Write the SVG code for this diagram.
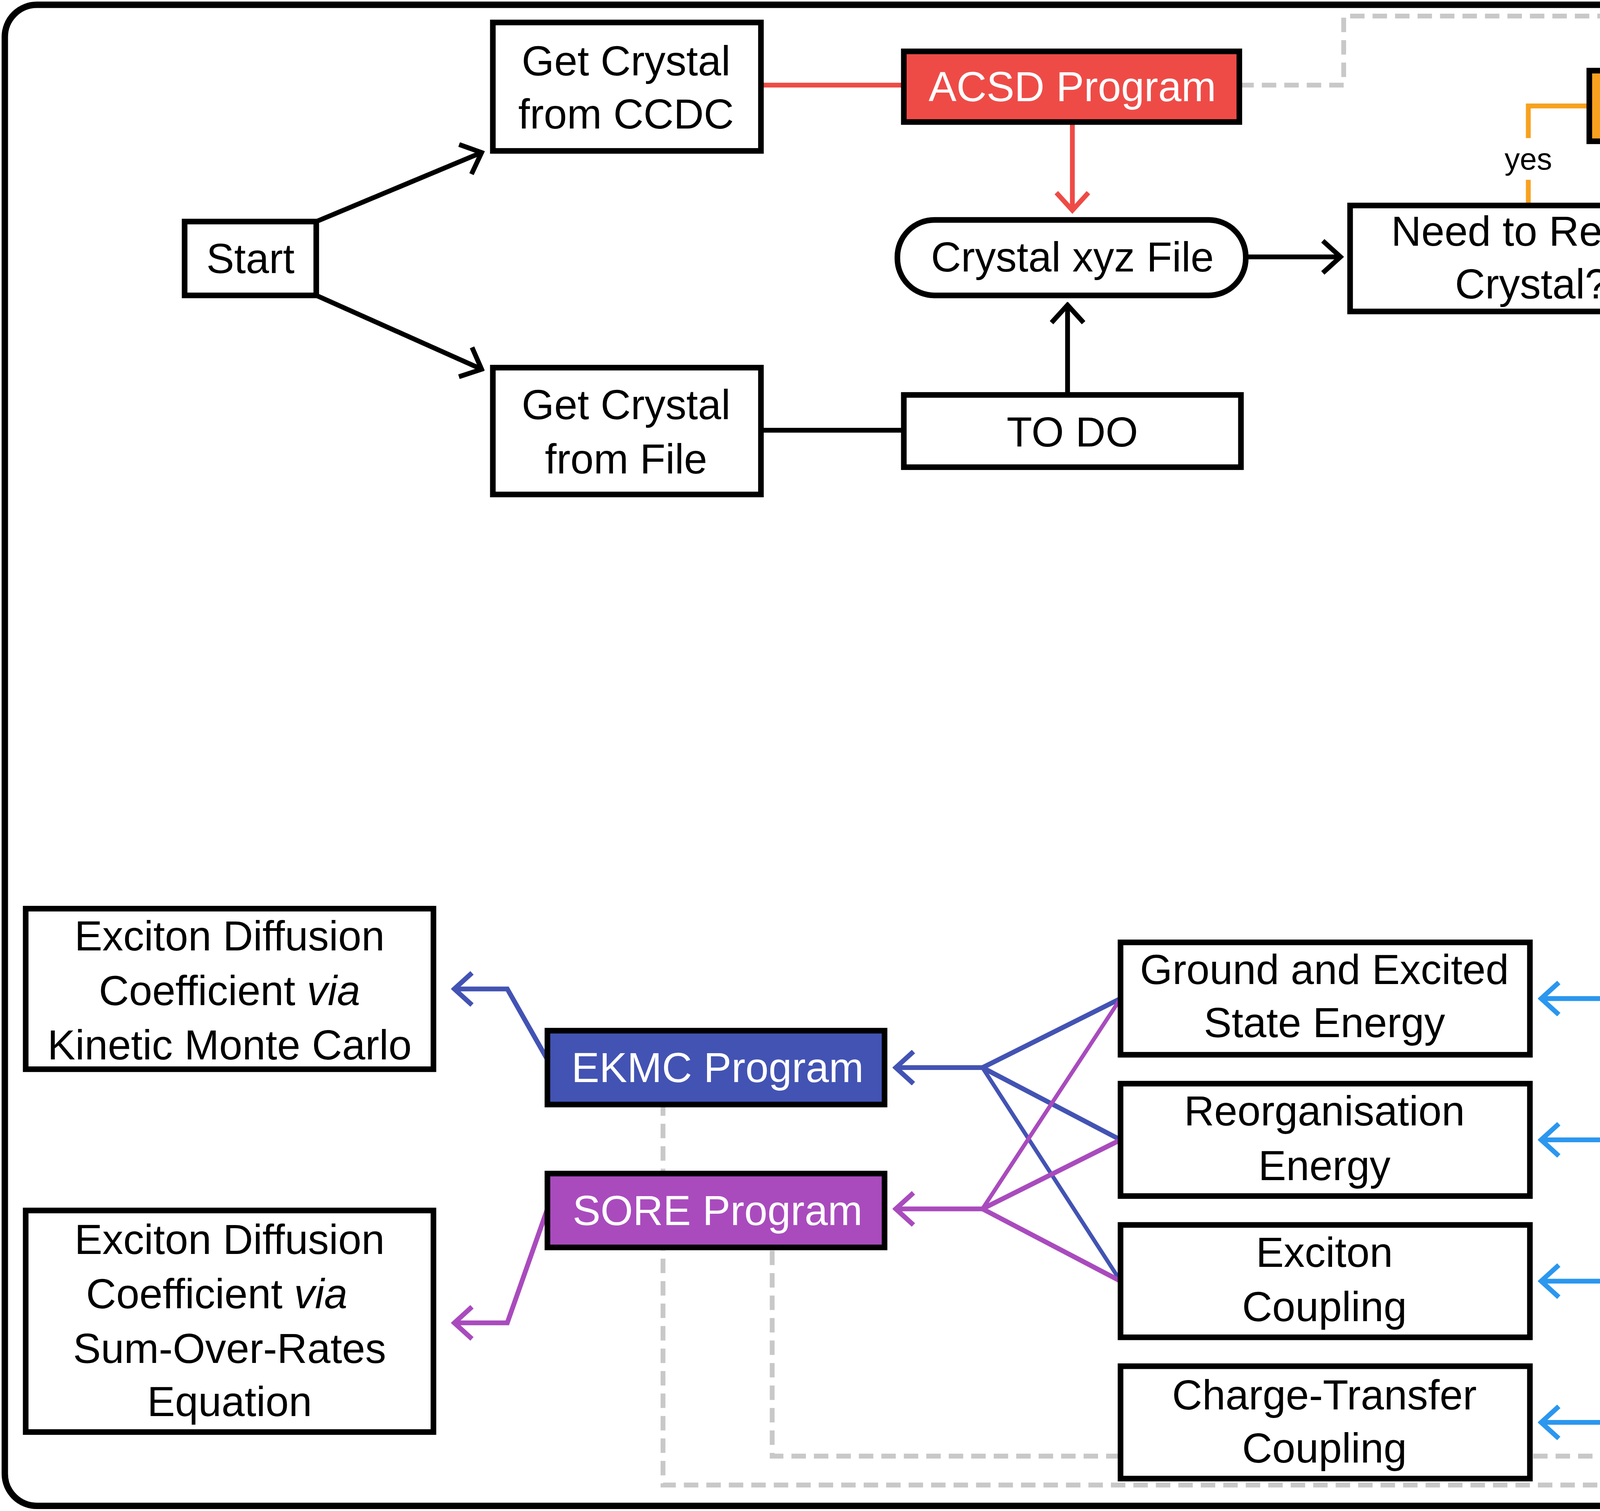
<svg xmlns="http://www.w3.org/2000/svg" width="6444" height="3868" viewBox="0 0 6444 3868">
<style>
.b{fill:#fff;stroke:#000;stroke-width:3.5}
.p{stroke:#000;stroke-width:3.5}
text{font-family:"Liberation Sans",Arial,sans-serif;font-size:26px;text-anchor:middle;dominant-baseline:central;fill:#000}
.w{fill:#fff}
.s{font-size:19px}
.c{fill:none;stroke-width:3}
.d{fill:none;stroke:#c8c8c8;stroke-width:3;stroke-dasharray:9,5}
</style>
<defs>
<marker id="mk" viewBox="0 0 14 22" refX="12" refY="11" markerWidth="14" markerHeight="22" markerUnits="userSpaceOnUse" orient="auto"><polyline points="1,1 12,11 1,21" fill="none" stroke="#000" stroke-width="3"/></marker>
<marker id="mr" viewBox="0 0 14 22" refX="12" refY="11" markerWidth="14" markerHeight="22" markerUnits="userSpaceOnUse" orient="auto"><polyline points="1,1 12,11 1,21" fill="none" stroke="#ee4b47" stroke-width="3"/></marker>
<marker id="mo" viewBox="0 0 14 22" refX="12" refY="11" markerWidth="14" markerHeight="22" markerUnits="userSpaceOnUse" orient="auto"><polyline points="1,1 12,11 1,21" fill="none" stroke="#f7a11f" stroke-width="3"/></marker>
<marker id="my" viewBox="0 0 14 22" refX="12" refY="11" markerWidth="14" markerHeight="22" markerUnits="userSpaceOnUse" orient="auto"><polyline points="1,1 12,11 1,21" fill="none" stroke="#fdb714" stroke-width="3"/></marker>
<marker id="mg" viewBox="0 0 14 22" refX="12" refY="11" markerWidth="14" markerHeight="22" markerUnits="userSpaceOnUse" orient="auto"><polyline points="1,1 12,11 1,21" fill="none" stroke="#4faf51" stroke-width="3"/></marker>
<marker id="mb" viewBox="0 0 14 22" refX="12" refY="11" markerWidth="14" markerHeight="22" markerUnits="userSpaceOnUse" orient="auto"><polyline points="1,1 12,11 1,21" fill="none" stroke="#2b97ef" stroke-width="3"/></marker>
<marker id="mi" viewBox="0 0 14 22" refX="12" refY="11" markerWidth="14" markerHeight="22" markerUnits="userSpaceOnUse" orient="auto"><polyline points="1,1 12,11 1,21" fill="none" stroke="#4353b3" stroke-width="3"/></marker>
<marker id="mp" viewBox="0 0 14 22" refX="12" refY="11" markerWidth="14" markerHeight="22" markerUnits="userSpaceOnUse" orient="auto"><polyline points="1,1 12,11 1,21" fill="none" stroke="#a94bbd" stroke-width="3"/></marker>
</defs>
<rect width="6444" height="3868" fill="#fff"/>
<g transform="scale(4.1097)">
<rect x="3" y="3" width="1562" height="935" rx="20" fill="none" stroke="#000" stroke-width="4"/>
<g id="connectors">
<g class="d">
<polyline points="772,53 837,53 837,10 1535,10 1535,797"/>
<polyline points="1112,44 1112,27 1505,27 1505,797"/>
<polyline points="1469,279 1469,866 1127,866 1127,925 413,925 413,688"/>
<polyline points="1215,445 1235,445 1235,480 1432,480 1432,797"/>
<polyline points="1390,843 1390,853 1075,853 1075,907 481,907 481,777"/>
<polyline points="1149,777 1149,819 1309,819"/>
</g>
<g class="c" stroke="#000">
<line x1="197" y1="138" x2="300" y2="95" marker-end="url(#mk)"/>
<line x1="197" y1="184" x2="300" y2="230" marker-end="url(#mk)"/>
<line x1="474" y1="268" x2="563" y2="268"/>
<line x1="665" y1="246" x2="665" y2="190" marker-end="url(#mk)"/>
<line x1="776" y1="160" x2="835" y2="160" marker-end="url(#mk)"/>
<polyline points="1068,160 1098,160"/>
<line x1="1122" y1="160" x2="1155" y2="160" marker-end="url(#mk)"/>
<polyline points="1273,194 1273,234"/>
<line x1="1273" y1="262" x2="1273" y2="313" marker-end="url(#mk)"/>
<polyline points="1273,389 1273,430"/>
<line x1="1273" y1="458" x2="1273" y2="510" marker-end="url(#mk)"/>
<line x1="1273" y1="590" x2="1273" y2="638" marker-end="url(#mk)"/>
</g>
<line x1="474" y1="53" x2="563" y2="53" stroke="#ee4b47" stroke-width="3"/>
<line x1="668" y1="76" x2="668" y2="131" class="c" stroke="#ee4b47" marker-end="url(#mr)"/>
<g class="c" stroke="#f7a11f">
<polyline points="952,128 952,112"/>
<polyline points="952,86 952,66 990,66"/>
<polyline points="1235,66 1273,66 1273,120" marker-end="url(#mo)"/>
</g>
<g class="c" stroke="#fdb714">
<polyline points="1387,160 1447,160 1447,180"/>
<polyline points="1447,205 1447,233"/>
<polyline points="1447,279 1447,353 1415,353" marker-end="url(#my)"/>
</g>
<g class="c" stroke="#4faf51">
<polyline points="1137,353 1110,353 1110,372"/>
<polyline points="1110,397 1110,422"/>
<polyline points="1110,468 1110,552 1145,552" marker-end="url(#mg)"/>
</g>
<g class="c" stroke="#2b97ef">
<polyline points="1273,715 1273,753 1255,753"/>
<polyline points="1060,731 1015,622 960,622" marker-end="url(#mb)"/>
<polyline points="1043,740 1015,710 960,710" marker-end="url(#mb)"/>
<polyline points="1043,770 1015,798 960,798" marker-end="url(#mb)"/>
<polyline points="1060,777 1015,886 960,886" marker-end="url(#mb)"/>
</g>
<g class="c" stroke="#4353b3">
<line x1="612" y1="665" x2="558" y2="665" marker-end="url(#mi)"/>
<line x1="612" y1="665" x2="698" y2="622"/>
<line x1="612" y1="665" x2="698" y2="710"/>
<line x1="612" y1="665" x2="698" y2="798" stroke-width="2.5"/>
<polyline points="341,660 316,616 283,616" marker-end="url(#mi)"/>
</g>
<g class="c" stroke="#a94bbd">
<line x1="612" y1="753" x2="558" y2="753" marker-end="url(#mp)"/>
<line x1="612" y1="753" x2="698" y2="622" stroke-width="2.5"/>
<line x1="612" y1="753" x2="698" y2="710"/>
<line x1="612" y1="753" x2="698" y2="798"/>
<polyline points="341,753 316,824 283,824" marker-end="url(#mp)"/>
</g>
<text x="952" y="99" class="s">yes</text>
<text x="1110" y="160" class="s">no</text>
<text x="1273" y="248" class="s">no</text>
<text x="1447" y="192" class="s">yes</text>
<text x="1110" y="384" class="s">yes</text>
<text x="1273" y="444" class="s">no</text>
</g>
<g id="start"><rect class="b" x="115" y="138" width="82" height="46"/><text x="156" y="161">Start</text></g>
<g id="ccdc"><rect class="b" x="307" y="14" width="167" height="80"/><text x="390" y="38">Get Crystal</text><text x="390" y="71">from CCDC</text></g>
<g id="file"><rect class="b" x="307" y="229" width="167" height="79"/><text x="390" y="252">Get Crystal</text><text x="390" y="286">from File</text></g>
<g id="acsd"><rect class="p" fill="#ee4b47" x="563" y="32" width="209" height="44"/><text class="w" x="668" y="54">ACSD Program</text></g>
<g id="xyz"><rect class="b" x="559" y="137" width="217" height="47" rx="23"/><text x="668" y="160">Crystal xyz File</text></g>
<g id="todo"><rect class="b" x="563" y="246" width="210" height="45"/><text x="668" y="269">TO DO</text></g>
<g id="repair"><rect class="b" x="841" y="128" width="227" height="66"/><text x="954" y="144">Need to Repair</text><text x="954" y="177">Crystal?</text></g>
<g id="recrystal"><rect class="p" fill="#f7a11f" x="990" y="44" width="245" height="44"/><text x="1112" y="66">ReCrystal Program</text></g>
<g id="remove"><rect class="b" x="1159" y="128" width="228" height="66"/><text x="1273" y="145">Remove Aliphatic</text><text x="1273" y="178">Sidechains?</text></g>
<g id="rsgc"><rect class="p" fill="#fdb714" x="1341" y="233" width="210" height="46"/><text x="1446" y="256">RSGC Program</text></g>
<g id="relax"><rect class="b" x="1137" y="321" width="272" height="68"/><text x="1273" y="339">Relax added/modified</text><text x="1273" y="372">atoms in crystals?</text></g>
<g id="rejig"><rect class="p" fill="#4faf51" x="1006" y="422" width="209" height="46"/><text class="w" x="1110" y="445">ReJig Program</text></g>
<g id="configured"><rect class="b" x="1155" y="516" width="236" height="74" rx="25"/><text x="1273" y="537">Configured Crystal</text><text x="1273" y="570">xyz File</text></g>
<g id="extract"><rect class="b" x="1159" y="645" width="228" height="70"/><text x="1273" y="662">Extract Structural</text><text x="1273" y="695">Data from Crystal</text></g>
<g id="eccp"><rect class="p" fill="#2b97ef" x="1043" y="731" width="212" height="46"/><text class="w" x="1149" y="754">ECCP Program</text></g>
<g id="ground"><rect class="b" x="698" y="587" width="255" height="70"/><text x="825" y="604">Ground and Excited</text><text x="825" y="637">State Energy</text></g>
<g id="reorg"><rect class="b" x="698" y="675" width="255" height="70"/><text x="825" y="692">Reorganisation</text><text x="825" y="726">Energy</text></g>
<g id="exciton"><rect class="b" x="698" y="763" width="255" height="70"/><text x="825" y="780">Exciton</text><text x="825" y="814">Coupling</text></g>
<g id="ct"><rect class="b" x="698" y="851" width="255" height="70"/><text x="825" y="869">Charge-Transfer</text><text x="825" y="902">Coupling</text></g>
<g id="ekmc"><rect class="p" fill="#4353b3" x="341" y="642" width="210" height="46"/><text class="w" x="447" y="665">EKMC Program</text></g>
<g id="sore"><rect class="p" fill="#a94bbd" x="341" y="731" width="210" height="46"/><text class="w" x="447" y="754">SORE Program</text></g>
<g id="kmc"><rect class="b" x="16" y="566" width="254" height="100"/><text x="143" y="583">Exciton Diffusion</text><text x="143" y="617">Coefficient <tspan font-style="italic">via</tspan></text><text x="143" y="651">Kinetic Monte Carlo</text></g>
<g id="sor"><rect class="b" x="16" y="754" width="254" height="138"/><text x="143" y="772">Exciton Diffusion</text><text x="135" y="806">Coefficient <tspan font-style="italic">via</tspan></text><text x="143" y="840">Sum-Over-Rates</text><text x="143" y="873">Equation</text></g>
<g id="sumelf"><rect class="p" fill="#666" x="1309" y="797" width="245" height="46"/><text class="w" x="1431" y="820">SUMELF Engine</text></g>
<g id="legend"><rect class="b" x="1166" y="880" width="388" height="45"/><line class="d" x1="1178" y1="902" x2="1240" y2="902"/><text x="1397" y="902">Program Uses SUMELF</text></g>
</g>
</svg>
